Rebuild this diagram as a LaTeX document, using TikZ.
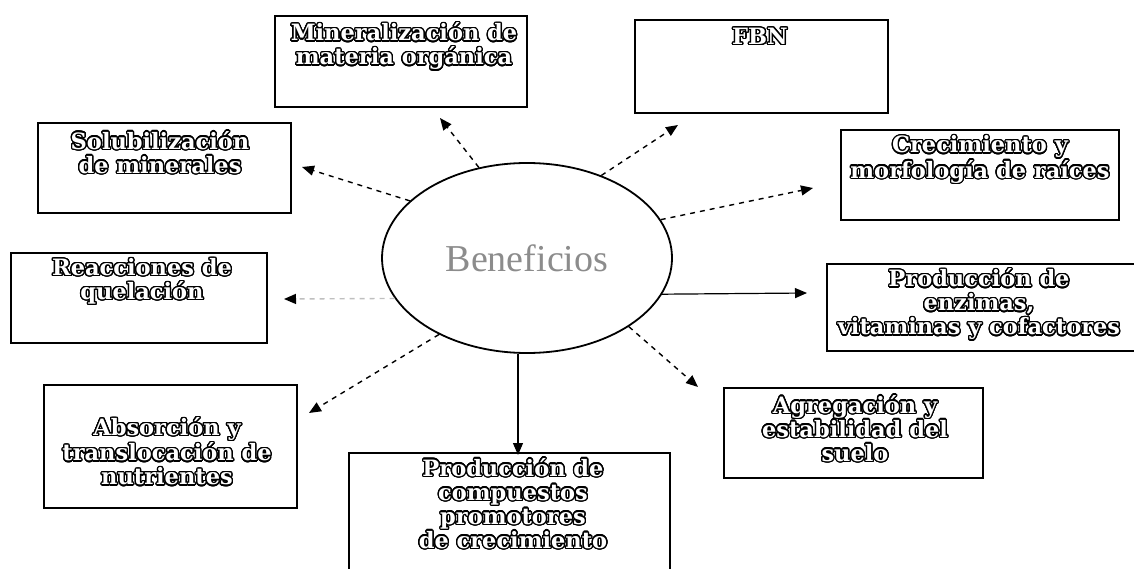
\documentclass[tikz,border=0pt]{standalone}
\usepackage{fontspec}
\usepackage{contour}
\contourlength{1.3pt}
\contournumber{24}
\setmainfont{Liberation Serif}
\newfontfamily\boxfont{DejaVu Serif}
\newcommand\olt[1]{\contour{black}{#1}}
\usetikzlibrary{shapes.geometric,arrows.meta}
\tikzset{
  box/.style={draw=black, line width=2pt, rectangle, inner sep=0pt},
  lbl/.style={align=center, inner sep=0pt, text=white, font=\boxfont\bfseries\fontsize{22.5}{24}\selectfont},
  dasharrow/.style={line width=1.4pt, dash pattern=on 5pt off 5pt, -{Triangle[length=12pt,width=10pt]}},
  solidarrow/.style={line width=1.2pt, -{Triangle[length=12pt,width=10pt]}},
}
\begin{document}
\begin{tikzpicture}[x=1pt,y=-1pt]
\useasboundingbox (0,0) rectangle (1134,569);
% central ellipse
\node[ellipse, draw, line width=1.8pt, minimum width=290pt, minimum height=190pt, inner sep=0pt,
      font=\fontsize{38}{40}\selectfont, text=black!45] (e) at (527,258) {Beneficios};
% boxes
\node[box, minimum width=252pt, minimum height=91pt] (mineral) at (401,61.5) {};
\node[lbl] (mineralt) at (404,47) {\olt{Mineralización de}\\\olt{materia orgánica}};
\node[box, minimum width=253pt, minimum height=90pt] (sol) at (164.5,168) {};
\node[lbl] (solt) at (160,153) {\olt{Solubilización}\\\olt{de minerales}};
\node[box, minimum width=256pt, minimum height=90pt] (reac) at (139,298) {};
\node[lbl] (react) at (142,282) {\olt{Reacciones de}\\\olt{quelación}};
\node[box, minimum width=253pt, minimum height=123pt] (abs) at (170.5,446.5) {};
\node[lbl] (abst) at (167,452) {\olt{Absorción y}\\\olt{translocación de}\\\olt{nutrientes}};
\node[box, minimum width=321pt, minimum height=150pt] (comp) at (509.5,528) {};
\node[lbl] (compt) at (513,504) {\olt{Producción de}\\\olt{compuestos}\\\olt{promotores}\\\olt{de crecimiento}};
\node[box, minimum width=253pt, minimum height=93pt] (fbn) at (761.5,66.5) {};
\node[lbl] (fbnt) at (760,37) {\olt{FBN}};
\node[box, minimum width=278pt, minimum height=90pt] (crec) at (980,175) {};
\node[lbl] (crect) at (980,160) {\olt{Crecimiento y}\\\olt{morfología de raíces}};
\node[box, minimum width=313pt, minimum height=87pt] (enz) at (983.5,307.5) {};
\node[lbl] (enzt) at (979,305) {\olt{Producción de}\\\olt{enzimas,}\\\olt{vitaminas y cofactores}};
\node[box, minimum width=259pt, minimum height=90pt] (agr) at (853.5,433) {};
\node[lbl] (agrt) at (855,429) {\olt{Agregación y}\\\olt{estabilidad del}\\\olt{suelo}};
% arrow tips
\coordinate (mineraltip) at (440,118);
\coordinate (soltip) at (302,167);
\coordinate (reactip) at (284,299);
\coordinate (abstip) at (309,413);
\coordinate (comptip) at (518,455);
\coordinate (agrtip) at (698,387);
\coordinate (enztip) at (807,293);
\coordinate (crectip) at (813,188);
\coordinate (fbntip) at (678,125);
% connectors
\draw[dasharrow] (e.118.3) -- (mineraltip);
\draw[dasharrow] (e.154.6) -- (soltip);
\draw[dasharrow, draw=black!25, -{Triangle[length=12pt,width=10pt,black]}] (e.197.4) -- (reactip);
\draw[dasharrow] (e.221.5) -- (abstip);
\draw[solidarrow] (comptip |- e.south) -- (comptip);
\draw[dasharrow] (e.326.6) -- (agrtip);
\draw[solidarrow] (e.345.5) -- (enztip);
\draw[dasharrow] (e.16.5) -- (crectip);
\draw[dasharrow] (e.48.2) -- (fbntip);
\end{tikzpicture}
\end{document}
